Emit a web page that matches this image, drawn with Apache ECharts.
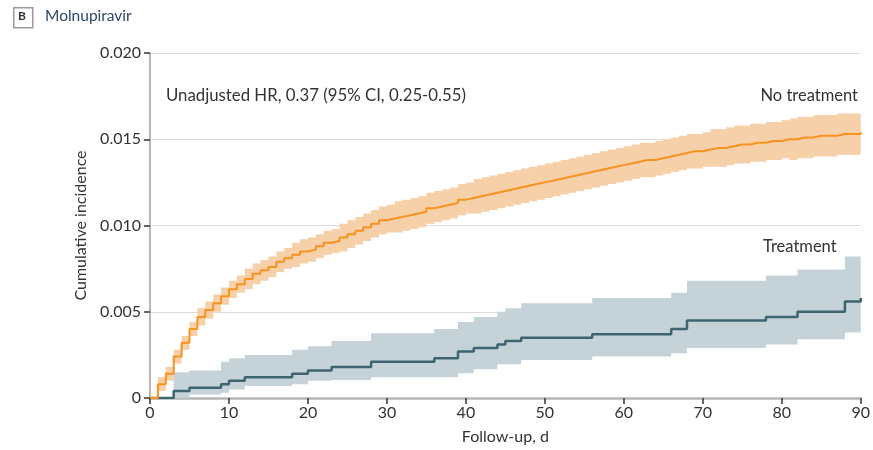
<!DOCTYPE html>
<html>
<head>
<meta charset="utf-8">
<script src="https://cdn.jsdelivr.net/npm/echarts@6/dist/echarts.min.js"></script>
<style>
html,body{margin:0;padding:0;background:#fff;}
#chart{width:873px;height:450px;}
</style>
</head>
<body>
<div id="chart"></div>
<script>
// ---- Data ----
// No treatment: daily event grid (days 0..90)
var noTxDays = [0,1,2,3,4,5,6,7,8,9,10,11,12,13,14,15,16,17,18,19,20,21,22,23,24,25,26,27,28,29,
  30,31,32,33,34,35,36,37,38,39,40,41,42,43,44,45,46,47,48,49,50,51,52,53,54,55,56,57,58,59,
  60,61,62,63,64,65,66,67,68,69,70,71,72,73,74,75,76,77,78,79,80,81,82,83,84,85,86,87,88,89,90];
var noTxLine = [0,0.0008,0.0014,0.0024,0.0032,0.0040,0.0047,0.0051,0.0055,0.0059,
  0.0063,0.0066,0.0069,0.0072,0.0074,0.0076,0.0079,0.0081,0.0083,0.0085,
  0.0086,0.0088,0.0090,0.0091,0.0093,0.0095,0.0097,0.0099,0.0101,0.0103,
  0.0104,0.0105,0.0106,0.0107,0.0108,0.0110,0.0111,0.0112,0.0113,0.0115,
  0.0116,0.0117,0.0118,0.0119,0.0120,0.0121,0.0122,0.0123,0.0124,0.0125,
  0.0126,0.0127,0.0128,0.0129,0.0130,0.0131,0.0132,0.0133,0.0134,0.0135,
  0.0136,0.0137,0.0138,0.0138,0.0139,0.0140,0.0141,0.0142,0.0143,0.0143,
  0.0144,0.0145,0.0145,0.0146,0.0147,0.0147,0.0148,0.0148,0.0149,0.0149,
  0.0150,0.0150,0.0151,0.0151,0.0152,0.0152,0.0152,0.0153,0.0153,0.0153,0.0154];
var noTxLow = [0,0.0004,0.0010,0.0020,0.0028,0.0036,0.0042,0.0046,0.0050,0.0054,
  0.0058,0.0061,0.0063,0.0066,0.0068,0.0070,0.0073,0.0075,0.0076,0.0078,
  0.0079,0.0081,0.0083,0.0084,0.0085,0.0087,0.0089,0.0091,0.0093,0.0095,
  0.0096,0.0096,0.0097,0.0098,0.0099,0.0101,0.0102,0.0103,0.0104,0.0106,
  0.0107,0.0107,0.0108,0.0109,0.0110,0.0111,0.0112,0.0113,0.0114,0.0115,
  0.0116,0.0117,0.0118,0.0119,0.0120,0.0121,0.0122,0.0123,0.0124,0.0125,
  0.0126,0.0127,0.0128,0.0128,0.0129,0.0130,0.0131,0.0132,0.0133,0.0133,
  0.0134,0.0134,0.0134,0.0135,0.0136,0.0136,0.0137,0.0137,0.0138,0.0138,
  0.0139,0.0138,0.0139,0.0139,0.0140,0.0140,0.0140,0.0141,0.0141,0.0141,0.0142];
var noTxHigh = [0,0.0012,0.0018,0.0028,0.0036,0.0044,0.0052,0.0056,0.0060,0.0064,
  0.0068,0.0071,0.0075,0.0078,0.0080,0.0082,0.0085,0.0087,0.0090,0.0092,
  0.0093,0.0095,0.0097,0.0098,0.0101,0.0103,0.0105,0.0107,0.0109,0.0111,
  0.0112,0.0114,0.0115,0.0116,0.0117,0.0119,0.0120,0.0121,0.0122,0.0124,
  0.0125,0.0127,0.0128,0.0129,0.0130,0.0131,0.0132,0.0133,0.0134,0.0135,
  0.0136,0.0137,0.0138,0.0139,0.0140,0.0141,0.0142,0.0143,0.0144,0.0145,
  0.0146,0.0147,0.0148,0.0148,0.0149,0.0150,0.0151,0.0152,0.0153,0.0153,
  0.0154,0.0156,0.0156,0.0157,0.0158,0.0158,0.0159,0.0159,0.0160,0.0160,
  0.0161,0.0162,0.0163,0.0163,0.0164,0.0164,0.0164,0.0165,0.0165,0.0165,0.0166];

// Treatment: event days
var txDays = [0,3,5,9,10,12,18,20,23,28,36,39,41,44,45,47,56,66,68,78,82,88,90];
var txLine = [0,0.0004,0.0006,0.0008,0.0010,0.0012,0.0014,0.0016,0.0018,0.0021,0.0023,0.0027,0.0029,0.0031,0.0033,0.0035,0.0037,0.0040,0.0045,0.0047,0.0050,0.0056,0.0058];
var txLow  = [0,0,0.0002,0.0003,0.0005,0.0007,0.0008,0.0010,0.00105,0.0012,0.0012,0.00144,0.00167,0.00196,0.00196,0.0022,0.0024,0.0026,0.0029,0.0031,0.0034,0.0038,0.0038];
var txHigh = [0,0.0015,0.0016,0.0021,0.0023,0.0025,0.0028,0.0030,0.0033,0.00375,0.0040,0.0044,0.0047,0.0050,0.0052,0.0055,0.0058,0.0061,0.0068,0.0071,0.00745,0.0082,0.0082];

var xTicks = [0,10,20,30,40,50,60,70,80,90];
var yTicks = ['0','0.005','0.010','0.015','0.020'];

// ---- Build ----
function pairs(xs, ys){ return xs.map(function(x,i){ return [x, ys[i]]; }); }

// stepped band polygon through the library's coordinate system
function bandSeries(xs, lo, hi, color, z){
  return {
    type:'custom', coordinateSystem:'cartesian2d', clip:true, z:z, silent:true,
    data:[[xs[0], lo[0]]],
    encode:{x:0, y:1},
    renderItem:function(params, api){
      var top = [], bot = [];
      for (var i = 0; i < xs.length; i++){
        top.push(api.coord([xs[i], hi[i]]));
        bot.push(api.coord([xs[i], lo[i]]));
        if (i < xs.length - 1){
          top.push(api.coord([xs[i+1], hi[i]]));
          bot.push(api.coord([xs[i+1], lo[i]]));
        }
      }
      var pts = top.concat(bot.reverse());
      return {type:'polygon', shape:{points:pts}, style:{fill:color, stroke:null}};
    }
  };
}

var FONT = 'Lato';
var TXT = '#333333';
var ORANGE = '#f7931e', ORANGE_BAND = '#f6d0a8';
var TEAL = '#3e6470', TEAL_BAND = '#c5d3d9';

var chart = echarts.init(document.getElementById('chart'), null, {renderer:'canvas'});
chart.setOption({
  animation: false,
  textStyle: {fontFamily: FONT},
  grid: {left:150, right:7, top:53, bottom:51, containLabel:false},
  xAxis: {
    type:'value', min:0, max:90, interval:10,
    name:'Follow-up, d', nameLocation:'middle', nameGap:31,
    nameTextStyle:{fontFamily:FONT, fontSize:16, color:TXT},
    axisLine:{show:true, lineStyle:{color:'#b5b5b5', width:2.5}},
    axisTick:{show:true, length:6, lineStyle:{color:'#333', width:1.5}},
    axisLabel:{fontFamily:FONT, fontSize:16, color:TXT, margin:7,
      formatter:function(v){ return xTicks.indexOf(v)>=0 ? String(v) : ''; }},
    splitLine:{show:false}
  },
  yAxis: {
    type:'value', min:0, max:0.02, interval:0.005,
    name:'Cumulative incidence', nameLocation:'middle', nameGap:57,
    nameTextStyle:{fontFamily:FONT, fontSize:16, color:TXT},
    axisLine:{show:true, lineStyle:{color:'#a0a0a0', width:1.5}},
    axisTick:{show:true, length:6, lineStyle:{color:'#333', width:1.5}},
    axisLabel:{fontFamily:FONT, fontSize:16, color:TXT, margin:9,
      formatter:function(v){ return yTicks[Math.round(v/0.005)]; }},
    splitLine:{show:true, lineStyle:{color:'#dcdcdc', width:1.2}}
  },
  series: [
    bandSeries(txDays, txLow, txHigh, TEAL_BAND, 1),
    bandSeries(noTxDays, noTxLow, noTxHigh, ORANGE_BAND, 2),
    {name:'Treatment', type:'line', step:'end', symbol:'none',
      lineStyle:{color:TEAL, width:2.5}, data: pairs(txDays, txLine), z:3},
    {name:'No treatment', type:'line', step:'end', symbol:'none',
      lineStyle:{color:ORANGE, width:2}, data: pairs(noTxDays, noTxLine), z:4}
  ],
  graphic: [
    {type:'rect', left:13, top:7, z:100, shape:{width:19, height:20},
      style:{fill:'#fff', stroke:'#9a9a9a', lineWidth:1.5}},
    {type:'text', left:18, top:10, z:101, style:{text:'B', font:'bold 12px '+FONT, fill:'#2b3440'}},
    {type:'text', left:45, top:8, z:100, style:{text:'Molnupiravir', font:'15.5px '+FONT, fill:'#2c4668'}},
    {type:'text', left:166, top:87, z:100, style:{text:'Unadjusted HR, 0.37 (95% CI, 0.25-0.55)', font:'16.8px '+FONT, fill:TXT}},
    {type:'text', right:15, top:87, z:100, style:{text:'No treatment', font:'16.5px '+FONT, fill:TXT}},
    {type:'text', left:763, top:238, z:100, style:{text:'Treatment', font:'16.5px '+FONT, fill:TXT}}
  ]
});
</script>
</body>
</html>
